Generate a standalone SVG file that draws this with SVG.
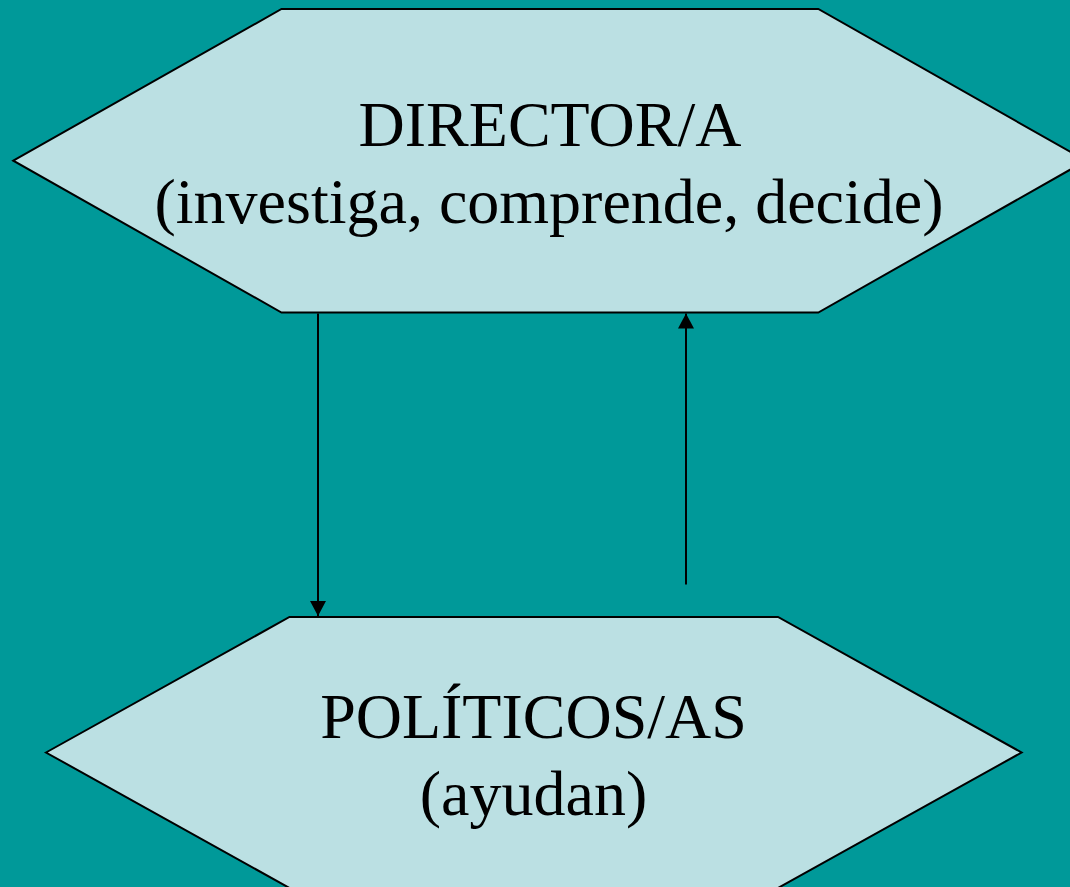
<svg xmlns="http://www.w3.org/2000/svg" width="1070" height="887" viewBox="0 0 1070 887">
<style>
.hex{fill:#BBE0E3;stroke:#000;stroke-width:2;stroke-linejoin:miter}
.lbl{font-family:"Liberation Serif","Times New Roman",serif;font-size:64px;fill:#000;text-anchor:middle}
.conn{stroke:#000;stroke-width:2;fill:none;marker-end:url(#arr)}
</style>
<defs>
<marker id="arr" markerUnits="userSpaceOnUse" viewBox="0 0 15 16" markerWidth="15" markerHeight="16" refX="15" refY="8" orient="auto">
<path d="M0,0 L15,8 L0,16 z" fill="#000"/>
</marker>
</defs>
<rect x="0" y="0" width="1070" height="887" fill="#009999"/>
<g id="node-director">
<polygon class="hex" points="13.3,160.7 281.5,9 818.3,9 1086,160.7 818.3,312.5 281.5,312.5"/>
<text class="lbl" x="550" y="146">DIRECTOR/A</text>
<text class="lbl" x="549" y="223">(investiga, comprende, decide)</text>
</g>
<g id="node-politicos">
<polygon class="hex" points="46,752.5 289.5,617 778,617 1021.6,752.5 778,888 289.5,888"/>
<text class="lbl" x="533.5" y="738">POLÍTICOS/AS</text>
<text class="lbl" x="533.5" y="815">(ayudan)</text>
</g>
<g id="connectors">
<line class="conn" x1="318" y1="313.5" x2="318" y2="616"/>
<line class="conn" x1="686" y1="584.5" x2="686" y2="313.5"/>
</g>
</svg>
